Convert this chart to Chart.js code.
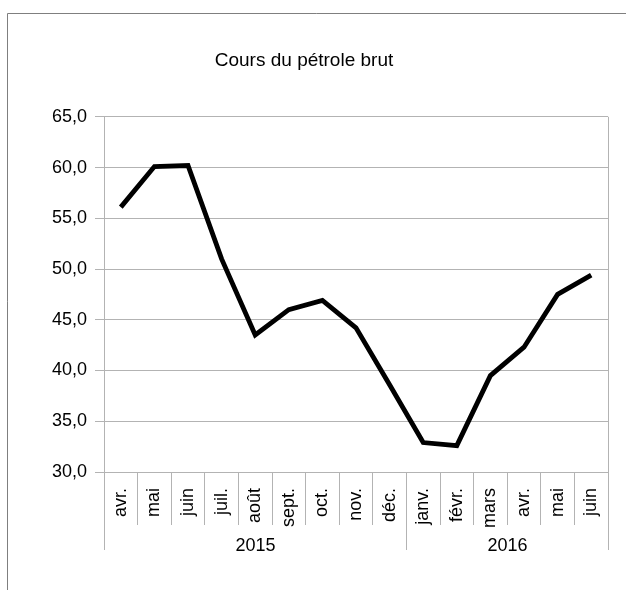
<!DOCTYPE html>
<html lang="fr">
<head>
<meta charset="utf-8">
<title>Cours du pétrole brut</title>
<script src="https://cdn.jsdelivr.net/npm/chart.js@4/dist/chart.umd.min.js"></script>
<style>
  html, body { margin: 0; padding: 0; background: #fff; }
  #wrap { position: relative; width: 626px; height: 590px; }
</style>
</head>
<body>
<div id="wrap"><canvas id="chart" width="626" height="590"></canvas></div>
<script>
/* ================= DATA ================= */
const months = ["avr.", "mai", "juin", "juil.", "août", "sept.", "oct.", "nov.", "déc.",
                "janv.", "févr.", "mars", "avr.", "mai", "juin"];
const years = ["2015", "2016"];
const yearSpans = [9, 6];
const prices = [56.1, 60.1, 60.2, 51.0, 43.5, 46.0, 46.9, 44.2, 38.6,
                32.9, 32.6, 39.5, 42.3, 47.5, 49.4];

const gridColor = "#b3b3b3";
const fontFamily = "'Liberation Sans', Arial, sans-serif";

/* ================= FRAME + YEAR ROW ================= */
const framePlugin = {
  id: "frame",
  beforeDraw(chart) {
    const ctx = chart.ctx;
    ctx.save();
    ctx.fillStyle = "#fff";
    ctx.fillRect(0, 0, chart.width, chart.height);
    ctx.strokeStyle = "#7f7f7f";
    ctx.lineWidth = 1;
    ctx.beginPath();
    ctx.moveTo(7.5, chart.height);
    ctx.lineTo(7.5, 13.5);
    ctx.lineTo(chart.width, 13.5);
    ctx.stroke();
    ctx.restore();
  },
  // right edge of the plot area
  beforeDatasetsDraw(chart) {
    const { ctx, chartArea } = chart;
    const xr = Math.round(chartArea.right) + 0.5;
    ctx.save();
    ctx.strokeStyle = gridColor;
    ctx.lineWidth = 1;
    ctx.beginPath();
    ctx.moveTo(xr, chartArea.top);
    ctx.lineTo(xr, chartArea.bottom);
    ctx.stroke();
    ctx.restore();
  }
};

const yearPlugin = {
  id: "yearRow",
  afterDraw(chart) {
    const ctx = chart.ctx;
    const x = chart.scales.x;
    const top = chart.chartArea.bottom;
    ctx.save();
    ctx.strokeStyle = gridColor;
    ctx.lineWidth = 1;
    ctx.fillStyle = "#000";
    ctx.font = "18px " + fontFamily;
    ctx.textAlign = "center";
    ctx.textBaseline = "middle";
    let start = 0;
    years.forEach((yr, i) => {
      const end = start + yearSpans[i];
      const x0 = Math.round(x.getPixelForValue(start - 0.5)) + 0.5;
      const x1 = Math.round(x.getPixelForValue(end - 0.5)) + 0.5;
      ctx.beginPath();
      ctx.moveTo(x0, top); ctx.lineTo(x0, top + 78);
      ctx.moveTo(x1, top); ctx.lineTo(x1, top + 78);
      ctx.stroke();
      ctx.fillText(yr, (x0 + x1) / 2, top + 74);
      start = end;
    });
    ctx.restore();
  }
};

/* ================= CHART ================= */
new Chart(document.getElementById("chart"), {
  type: "line",
  data: {
    labels: months,
    datasets: [{
      data: prices,
      borderColor: "#000",
      borderWidth: 4.8,
      pointRadius: 0,
      tension: 0,
      fill: false
    }]
  },
  options: {
    responsive: false,
    animation: false,
    layout: { padding: { left: 0, right: 18, top: 0, bottom: 0 } },
    plugins: {
      legend: { display: false },
      tooltip: { enabled: false },
      title: {
        display: true,
        text: "Cours du pétrole brut",
        color: "#000",
        font: { family: fontFamily, size: 19, weight: "normal" },
        padding: { top: 49, bottom: 45 }
      }
    },
    scales: {
      x: {
        offset: true,
        afterFit: (scale) => { scale.height = 118; },
        grid: {
          offset: true,
          drawOnChartArea: false,
          drawTicks: true,
          tickLength: 53,
          color: gridColor
        },
        border: { color: gridColor },
        ticks: {
          autoSkip: false,
          minRotation: 90,
          maxRotation: 90,
          padding: -37,
          color: "#000",
          font: { family: fontFamily, size: 18 }
        }
      },
      y: {
        min: 30,
        max: 65,
        afterFit: (scale) => { scale.width = 104; },
        grid: { color: gridColor, tickLength: 9 },
        border: { color: gridColor },
        ticks: {
          stepSize: 5,
          padding: 8,
          color: "#000",
          font: { family: fontFamily, size: 18 },
          callback: (v) => v.toFixed(1).replace(".", ",")
        }
      }
    }
  },
  plugins: [framePlugin, yearPlugin]
});
</script>
</body>
</html>
